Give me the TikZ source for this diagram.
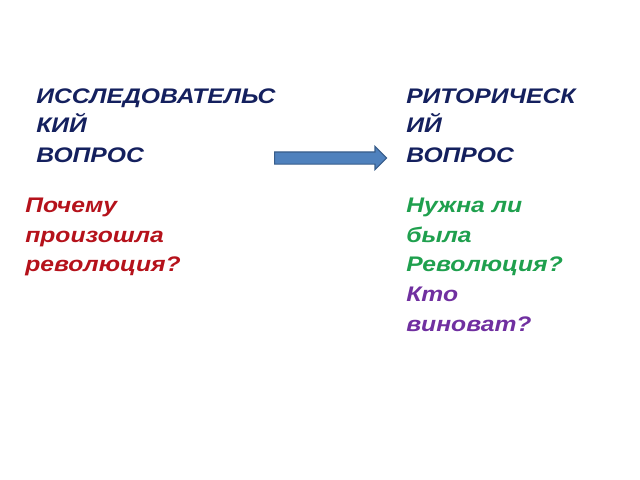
\documentclass[tikz,border=0pt]{standalone}
\usepackage{fontspec}
\setmainfont{Liberation Sans}[FakeStretch=1.17]
\usetikzlibrary{positioning}
\usetikzlibrary{shapes.arrows}

\definecolor{headnavy}{HTML}{14205E}
\definecolor{askred}{HTML}{B5121B}
\definecolor{askgreen}{HTML}{1FA04E}
\definecolor{askpurple}{HTML}{7030A0}
\definecolor{arrowfill}{HTML}{4F81BD}
\definecolor{arrowline}{HTML}{385D8A}

\tikzset{
  txt/.style={anchor=north west,inner sep=0pt,align=left,
    font=\fontsize{15}{21}\selectfont\bfseries\itshape},
  head/.style={txt,text=headnavy},
}

\begin{document}
\begin{tikzpicture}[x=0.025cm,y=-0.025cm]
\useasboundingbox (0,0) rectangle (640,480);
\node[head] (research) at (36,88) {ИССЛЕДОВАТЕЛЬС\\КИЙ\\ВОПРОС};
\node[head] (rhetoric) at (406,88) {РИТОРИЧЕСК\\ИЙ\\ВОПРОС};
\node[txt,text=askred] (why) at (25,198) {Почему\\произошла\\революция?};
\node[txt,text=askgreen] (need) at (406,198) {Нужна ли\\была\\Революция?};
\node[txt,text=askpurple] (who) at (406,287) {Кто\\виноват?};
% block arrow
\node[single arrow,draw=arrowline,fill=arrowfill,line width=0.8pt,
  text height=5.5*0.025cm,text depth=5.5*0.025cm,text width=0pt,
  minimum height=112*0.025cm,
  single arrow head extend=5.5*0.025cm,single arrow tip angle=90,
  inner sep=0pt,anchor=west] (toarrow) at (274,158) {};
\end{tikzpicture}
\end{document}
